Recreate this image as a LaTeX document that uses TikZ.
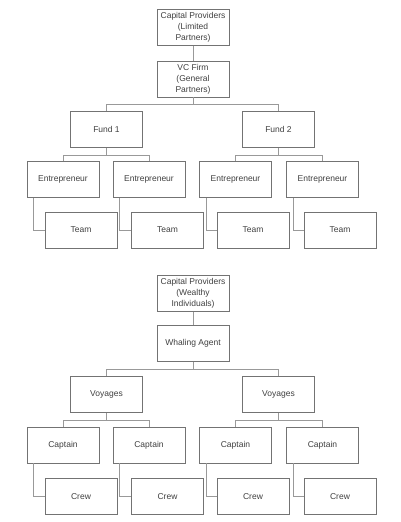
\documentclass[tikz,border=0pt]{standalone}
\usepackage{fontspec}
\setmainfont{Liberation Sans}
\tikzset{
  box/.style={draw=black!55, line width=0.8pt, fill=white, text=black!75,
    minimum width=72pt, minimum height=36pt, inner sep=1pt, align=center,
    font=\fontsize{8.5}{11}\selectfont},
  link/.style={draw=black!40, line width=0.8pt}
}
\begin{document}
\begin{tikzpicture}[x=1pt,y=-1pt]
      \useasboundingbox (0,0) rectangle (400,522);
      % venture capital
      \draw
        (193,27.5) node[box] (cp1){Capital Providers\\(Limited\\Partners)}
        (193,79) node[box] (vc){VC Firm\\(General\\Partners)}
        (106.5,129.5) node[box] (f1){Fund 1}
        (278.5,129.5) node[box] (f2){Fund 2}
        (63,179.5) node[box] (e1){Entrepreneur}
        (149,179.5) node[box] (e2){Entrepreneur}
        (235.5,179.5) node[box] (e3){Entrepreneur}
        (322.5,179.5) node[box] (e4){Entrepreneur}
        (81,230) node[box] (t1){Team}
        (167.5,230) node[box] (t2){Team}
        (253,230) node[box] (t3){Team}
        (340,230) node[box] (t4){Team};
      % whaling
      \draw
        (193,293.5) node[box] (cp2){Capital Providers\\(Wealthy\\Individuals)}
        (193,343.5) node[box] (wa){Whaling Agent}
        (106.5,394.5) node[box] (v1){Voyages}
        (278.5,394.5) node[box] (v2){Voyages}
        (63,445) node[box] (c1){Captain}
        (149,445) node[box] (c2){Captain}
        (235.5,445) node[box] (c3){Captain}
        (322.5,445) node[box] (c4){Captain}
        (81,496.5) node[box] (w1){Crew}
        (167.5,496.5) node[box] (w2){Crew}
        (253,496.5) node[box] (w3){Crew}
        (340,496.5) node[box] (w4){Crew};
      \begin{scope}[link]
        \draw (cp1) to (vc);
        \draw (vc.south) -- ++(0,7) -| (f1.north);
        \draw (vc.south) -- ++(0,7) -| (f2.north);
        \draw (f1.south) -- ++(0,7) -| (e1.north);
        \draw (f1.south) -- ++(0,7) -| (e2.north);
        \draw (f2.south) -- ++(0,7) -| (e3.north);
        \draw (f2.south) -- ++(0,7) -| (e4.north);
        \draw ([xshift=7pt]e1.south west) |- (t1.west);
        \draw ([xshift=7pt]e2.south west) |- (t2.west);
        \draw ([xshift=7pt]e3.south west) |- (t3.west);
        \draw ([xshift=7pt]e4.south west) |- (t4.west);
        \draw (cp2) to (wa);
        \draw (wa.south) -- ++(0,7) -| (v1.north);
        \draw (wa.south) -- ++(0,7) -| (v2.north);
        \draw (v1.south) -- ++(0,7) -| (c1.north);
        \draw (v1.south) -- ++(0,7) -| (c2.north);
        \draw (v2.south) -- ++(0,7) -| (c3.north);
        \draw (v2.south) -- ++(0,7) -| (c4.north);
        \draw ([xshift=7pt]c1.south west) |- (w1.west);
        \draw ([xshift=7pt]c2.south west) |- (w2.west);
        \draw ([xshift=7pt]c3.south west) |- (w3.west);
        \draw ([xshift=7pt]c4.south west) |- (w4.west);
      \end{scope}
    \end{tikzpicture}
\end{document}
